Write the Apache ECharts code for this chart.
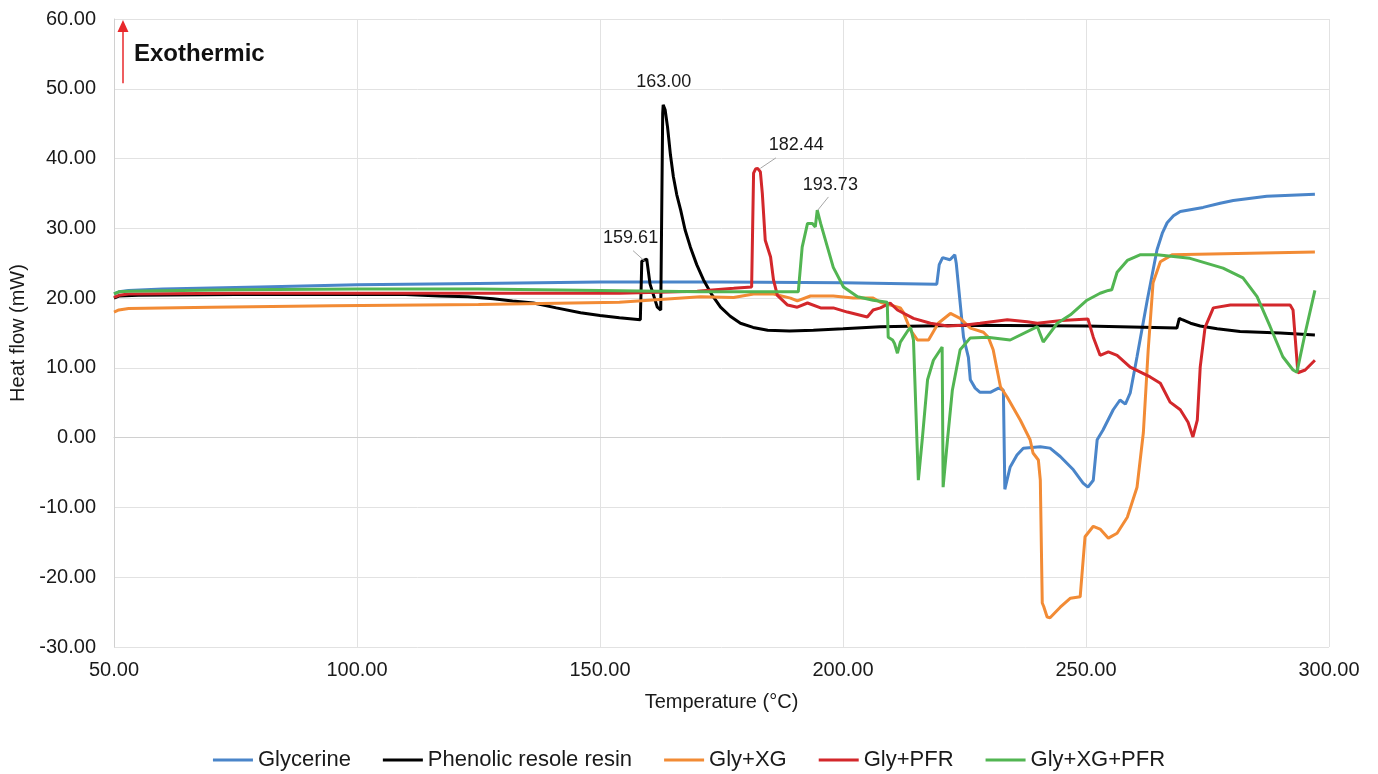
<!DOCTYPE html>
<html>
<head>
<meta charset="utf-8">
<script src="https://cdn.jsdelivr.net/npm/echarts@6/dist/echarts.min.js"></script>
<style>
  html, body { margin: 0; padding: 0; background: #fff; }
  #myChart { width: 1378px; height: 774px; }
</style>
</head>
<body>
<div id="myChart"></div>
<script>
// Temperature (°C) / heat flow (mW), one pair of arrays per curve
var glyT  = [50, 51, 53, 60, 80, 100, 125, 150, 175, 200, 219.3, 219.8, 220.5, 222, 223, 223.3, 224.8, 225.8, 226.2, 227.2, 228.2, 230.3, 232.0, 233.0, 233.3, 234.4, 235.8, 237.1, 240.6, 242.6, 244.7, 247.4, 249.4, 250.4, 251.5, 252.3, 253.5, 255.6, 257.0, 257.4, 258.1, 259.1, 260.5, 262.6, 264.6, 265.7, 266.7, 268.0, 269.4, 274.1, 277.6, 280.3, 287.2, 297.1];
var glyHF = [20.6, 20.9, 21.1, 21.3, 21.6, 21.9, 22.1, 22.3, 22.3, 22.2, 22.0, 24.8, 25.8, 25.5, 26.2, 25.0, 14.4, 11.5, 8.3, 7.1, 6.5, 6.5, 7.1, 6.8, -7.4, -4.2, -2.5, -1.5, -1.3, -1.5, -2.7, -4.6, -6.5, -7.1, -6.1, -0.3, 1.1, 4.0, 5.4, 5.5, 4.8, 6.4, 11.6, 19.7, 26.9, 29.3, 30.8, 31.8, 32.4, 33.0, 33.6, 34.0, 34.6, 34.9];

var pfrT  = [50, 51, 55, 75, 100, 110, 117, 122.8, 128, 132, 136.3, 141, 146, 150, 154, 158.3, 158.6, 159.61, 160.3, 161.8, 162.5, 162.7, 162.9, 163.0, 163.4, 163.9, 164.5, 165.1, 165.8, 166.6, 167.5, 168.6, 169.9, 171.3, 173, 174.8, 176.8, 178.9, 181.5, 184.5, 189, 193.9, 200, 207.7, 225.5, 250, 268.7, 269.2, 269.8, 271.5, 273.5, 277, 281.7, 290, 297.1];
var pfrHF = [20.0, 20.3, 20.4, 20.5, 20.5, 20.5, 20.3, 20.2, 19.9, 19.6, 19.3, 18.6, 17.9, 17.5, 17.2, 16.9, 25.3, 25.6, 22.0, 18.7, 18.3, 18.5, 46.5, 47.7, 47.0, 44.5, 40.5, 37.4, 34.8, 32.6, 29.8, 27.3, 24.8, 22.6, 20.5, 18.7, 17.4, 16.4, 15.8, 15.4, 15.3, 15.4, 15.6, 15.9, 16.1, 16.0, 15.7, 17.1, 16.9, 16.4, 16.0, 15.6, 15.2, 15.0, 14.7];

var xgT  = [50, 51, 53, 70, 95, 125, 154, 170.7, 177.5, 181.6, 185.7, 189.2, 190.6, 193.3, 198, 202.1, 206.2, 207.7, 211.8, 212.4, 213.9, 215.3, 217.6, 219.6, 222.1, 224.1, 226.2, 228.9, 229.9, 230.9, 232.4, 233.8, 236.5, 238.5, 239.1, 240.2, 240.6, 241.0, 241.3, 242.0, 242.6, 244.7, 246.8, 248.8, 249.2, 249.8, 251.5, 252.9, 254.6, 256.4, 258.5, 260.5, 261.8, 262.8, 263.8, 265.3, 267.7, 297.1];
var xgHF = [18.0, 18.3, 18.5, 18.7, 18.9, 19.1, 19.4, 20.2, 20.1, 20.6, 20.6, 20.0, 19.6, 20.3, 20.3, 20.0, 20.0, 19.4, 18.6, 18.0, 15.4, 14.0, 14.0, 16.4, 17.8, 17.1, 15.7, 15.1, 14.4, 12.6, 7.3, 5.8, 2.5, -0.3, -2.2, -3.2, -6.1, -23.7, -24.2, -25.7, -25.8, -24.3, -23.0, -22.8, -22.9, -14.2, -12.7, -13.1, -14.4, -13.7, -11.4, -7.1, 0.7, 12.6, 22.2, 25.2, 26.2, 26.6];

var gpT  = [50, 51, 53, 75, 100, 125, 154, 170, 177.5, 181.2, 181.6, 182.0, 182.44, 183.0, 183.4, 184.0, 185.1, 185.7, 186.5, 188.6, 190.6, 192.7, 195.4, 198.0, 200.9, 205.0, 206.2, 207.7, 209.7, 211.2, 214.5, 218.0, 221.5, 224.8, 228.2, 233.8, 237.9, 240.0, 245, 250.4, 251.5, 252.9, 254.6, 256.4, 259.1, 263.2, 265.3, 267.3, 269.4, 271.0, 272.0, 272.9, 273.5, 274.5, 276.2, 279.7, 292.0, 292.6, 293.6, 295.1, 297.1];
var gpHF = [20.1, 20.4, 20.6, 20.7, 20.7, 20.7, 20.7, 21.0, 21.4, 21.6, 37.9, 38.5, 38.6, 38.1, 35.0, 28.3, 25.9, 22.6, 20.4, 19.0, 18.7, 19.3, 18.6, 18.6, 18.0, 17.3, 18.3, 18.6, 19.3, 18.3, 17.1, 16.4, 16.0, 16.1, 16.4, 16.9, 16.6, 16.4, 16.8, 17.0, 14.4, 11.8, 12.3, 11.8, 10.1, 8.7, 7.8, 5.1, 4.0, 2.2, 0.1, 2.5, 10.1, 15.8, 18.6, 19.0, 19.0, 18.3, 9.3, 9.7, 11.1];

var gxpT  = [50, 51, 53, 75, 100, 125, 150, 170.7, 190.8, 191.2, 191.6, 192.7, 193.7, 194.3, 194.7, 195.4, 196.8, 198.0, 200.1, 203.0, 206.2, 209.1, 209.3, 210.2, 210.6, 211.2, 211.8, 213.4, 213.9, 214.5, 215.5, 216.3, 217.4, 218.6, 220.4, 220.6, 221.5, 222.5, 224.1, 226.2, 229.7, 234.4, 240.0, 241.2, 244.1, 246.8, 250.2, 252.9, 254.6, 255.3, 256.4, 258.5, 261.1, 264.6, 271.4, 278.2, 282.3, 285.2, 287.9, 290.5, 292.6, 293.4, 295.1, 297.1];
var gxpHF = [20.6, 20.9, 21.0, 21.2, 21.3, 21.3, 21.1, 20.9, 20.9, 21.1, 27.3, 30.7, 30.7, 30.2, 32.6, 30.7, 27.3, 24.4, 21.6, 20.2, 19.7, 19.4, 14.4, 14.0, 13.5, 12.1, 13.7, 15.4, 15.8, 14.0, -6.1, -0.3, 8.3, 11.1, 13.0, -7.1, -0.3, 6.8, 12.6, 14.3, 14.4, 14.0, 15.9, 13.7, 16.4, 17.6, 19.7, 20.7, 21.1, 21.2, 23.7, 25.4, 26.2, 26.2, 25.7, 24.3, 22.9, 20.2, 15.9, 11.6, 9.7, 9.4, 15.0, 21.1];

var seriesNames = ['Glycerine', 'Phenolic resole resin', 'Gly+XG', 'Gly+PFR', 'Gly+XG+PFR'];
var seriesColors = ['#4a85c9', '#000000', '#f28b35', '#d3272b', '#52b552'];

var FONT = '"Liberation Sans", Arial, sans-serif';

function zip(t, hf) {
  var out = [];
  for (var i = 0; i < t.length; i++) out.push([t[i], hf[i]]);
  return out;
}

// peak labels (text) + grey leader lines
function peakMarks(labels, leaders) {
  var res = {
    markPoint: {
      symbol: 'circle', symbolSize: 1, silent: true,
      itemStyle: { color: 'rgba(0,0,0,0)' },
      label: { show: true, position: 'inside', color: '#1a1a1a', fontSize: 18, fontFamily: FONT,
        formatter: function (p) { return p.name; } },
      data: labels.map(function (l) { return { name: l[0], coord: l[1] }; })
    }
  };
  if (leaders && leaders.length) {
    res.markLine = {
      symbol: ['none', 'none'], silent: true,
      lineStyle: { color: '#a6a6a6', width: 1, type: 'solid' },
      label: { show: false },
      data: leaders.map(function (l) { return [{ coord: l[0] }, { coord: l[1] }]; })
    };
  }
  return res;
}

function makeSeries(i, t, hf, extra) {
  var s = {
    name: seriesNames[i],
    type: 'line',
    data: zip(t, hf),
    showSymbol: false,
    symbol: 'none',
    lineStyle: { width: 3, color: seriesColors[i] },
    itemStyle: { color: seriesColors[i] },
    animation: false
  };
  if (extra) {
    if (extra.markPoint) s.markPoint = extra.markPoint;
    if (extra.markLine) s.markLine = extra.markLine;
  }
  return s;
}

var phenolicExtra = peakMarks(
  [['159.61', [156.3, 28.6]], ['163.00', [163.1, 51.0]]],
  [[[156.8, 26.8], [159.2, 25.3]]]
);
var gpExtra = peakMarks([['182.44', [190.4, 41.9]]], [[[186.2, 40.1], [183.0, 38.6]]]);
var gxpExtra = peakMarks([['193.73', [197.4, 36.2]]], [[[197.0, 34.5], [194.8, 32.6]]]);

// exothermic arrow goes on the glycerine series
var glyExtra = {
  markLine: {
    symbol: ['none', 'triangle'], symbolSize: [11, 12], silent: true,
    lineStyle: { color: '#e8282b', width: 1.5, type: 'solid' },
    label: { show: false },
    data: [[{ coord: [51.85, 50.8] }, { coord: [51.85, 59.0] }]]
  }
};

var myChart = echarts.init(document.getElementById('myChart'));
myChart.setOption({
  animation: false,
  textStyle: { fontFamily: FONT },
  grid: { left: 113, right: 49, top: 19, bottom: 127, containLabel: false },
  legend: {
    data: seriesNames,
    top: 744,
    left: 'center',
    icon: 'rect',
    itemWidth: 40,
    itemHeight: 3,
    itemGap: 32,
    textStyle: { fontSize: 22, color: '#1a1a1a', fontFamily: FONT }
  },
  graphic: [{
    type: 'text',
    left: 134,
    top: 42,
    style: { text: 'Exothermic', fontSize: 24, fontWeight: 'bold', fill: '#111', fontFamily: FONT }
  }],
  xAxis: {
    type: 'value',
    min: 50, max: 300, interval: 50,
    name: 'Temperature (°C)',
    nameLocation: 'middle',
    nameGap: 45,
    nameTextStyle: { fontSize: 20, color: '#1a1a1a', fontFamily: FONT },
    axisLine: { show: true, lineStyle: { color: '#d0d0d0', width: 1 } },
    axisTick: { show: false },
    axisLabel: { margin: 13, fontSize: 20, color: '#1a1a1a', fontFamily: FONT, formatter: function (v) { return v.toFixed(2); } },
    splitLine: { show: true, lineStyle: { color: '#e2e2e2', width: 1 } }
  },
  yAxis: {
    type: 'value',
    min: -30, max: 60, interval: 10,
    name: 'Heat flow (mW)',
    nameLocation: 'middle',
    nameGap: 86,
    nameTextStyle: { fontSize: 20, color: '#1a1a1a', fontFamily: FONT },
    axisLine: { show: true, lineStyle: { color: '#d0d0d0', width: 1 } },
    axisTick: { show: false },
    axisLabel: { margin: 18, fontSize: 20, color: '#1a1a1a', fontFamily: FONT, formatter: function (v) { return v.toFixed(2); } },
    splitLine: { show: true, lineStyle: { color: '#e2e2e2', width: 1 } }
  },
  series: [
    makeSeries(0, glyT, glyHF, glyExtra),
    makeSeries(1, pfrT, pfrHF, phenolicExtra),
    makeSeries(2, xgT, xgHF),
    makeSeries(3, gpT, gpHF, gpExtra),
    makeSeries(4, gxpT, gxpHF, gxpExtra)
  ]
});
</script>
</body>
</html>
